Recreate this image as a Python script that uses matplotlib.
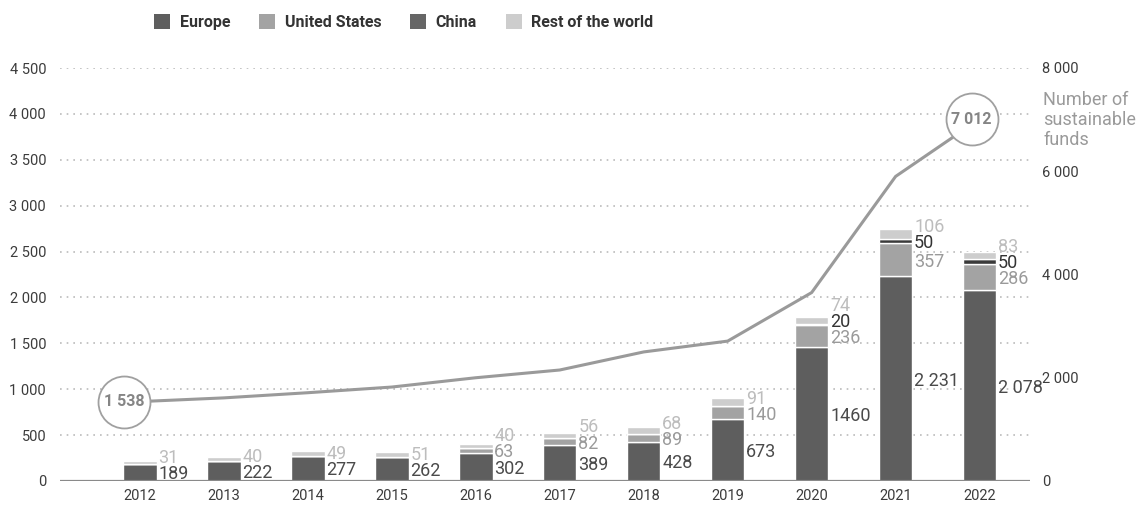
import matplotlib.pyplot as plt
import numpy as np
from matplotlib.patches import Patch
from matplotlib.transforms import offset_copy

plt.rcParams['font.family'] = ['Roboto', 'DejaVu Sans']

years = ['2012', '2013', '2014', '2015', '2016', '2017',
         '2018', '2019', '2020', '2021', '2022']
europe = [189, 222, 277, 262, 302, 389, 428, 673, 1460, 2231, 2078]
europe_labels = ['189', '222', '277', '262', '302', '389', '428', '673',
                 '1460', '2 231', '2 078']
united_states = [0, 0, 0, 0, 63, 82, 89, 140, 236, 357, 286]
china = [0, 0, 0, 0, 0, 0, 0, 0, 20, 50, 50]
rest = [31, 40, 49, 51, 40, 56, 68, 91, 74, 106, 83]
n_funds = [1538, 1610, 1710, 1820, 2000, 2150, 2500, 2710, 3650, 5900, 7012]

series = [('Europe', europe, '#5e5e5e', '#4a4a4a'),
          ('United States', united_states, '#a3a3a3', '#9a9a9a'),
          ('China', china, '#3a3a3a', '#333333'),
          ('Rest of the world', rest, '#cdcdcd', '#bdbdbd')]


def _fmt(v):
    return f'{v:,}'.replace(',', ' ')


fig = plt.figure(figsize=(11.39, 5.05), dpi=100)
ax = fig.add_axes([60 / 1139, 24 / 505, 970 / 1139, 413 / 505])
x = np.arange(len(years))

bottom = np.zeros(len(years))
for name, vals, col, _ in series:
    ax.bar(x, vals, 0.4, bottom=bottom, color=col, edgecolor='white',
           linewidth=1.0, zorder=3)
    bottom += np.array(vals)

# labels to the right of each bar, pushed up so they don't collide
gap = 175
for i in range(len(years)):
    cum = 0
    prev = None
    for k, (name, vals, col, tcol) in enumerate(series):
        v = vals[i]
        if v == 0:
            continue
        yc = cum + v / 2
        if prev is not None:
            yc = max(yc, prev + gap)
        txt = europe_labels[i] if k == 0 else str(v)
        ax.text(x[i] + 0.22, yc, txt, color=tcol, fontsize=13,
                va='center_baseline', ha='left', zorder=5)
        prev = yc
        cum += v

ax.set_ylim(0, 4500)
ax.set_xlim(-0.95, 10.6)
ax.set_yticks(np.arange(0, 4501, 500))
ax.set_yticklabels([_fmt(v) for v in range(0, 4501, 500)])
ax.set_xticks(x)
ax.set_xticklabels(years)
ax.tick_params(axis='both', length=0, labelsize=10.5, colors='#3c3c3c')
ax.tick_params(axis='y', pad=10)
ax.tick_params(axis='x', pad=6)
for s in ax.spines.values():
    s.set_visible(False)
ax.grid(axis='y', linestyle=(0, (1, 3)), color='#bbbbbb', linewidth=1.2)
ax.axhline(0, color='#8a8a8a', linewidth=1.6, zorder=4)

ax2 = ax.twinx()
ax2.plot(x, n_funds, color='#9a9a9a', linewidth=2.2, zorder=3)
ax2.set_ylim(0, 8000)
ax2.set_yticks(np.arange(0, 8001, 2000))
ax2.set_yticklabels([_fmt(v) for v in range(0, 8001, 2000)])
ax2.tick_params(axis='y', length=0, labelsize=10.5, colors='#3c3c3c', pad=9)
for s in ax2.spines.values():
    s.set_visible(False)

# circled start / end values
for idx, dx in [(0, -16), (len(years) - 1, -8)]:
    tr = offset_copy(ax2.transData, fig=fig, x=dx, y=0, units='dots')
    ax2.scatter([x[idx]], [n_funds[idx]], s=1400, facecolor='white',
                edgecolor='#a0a0a0', linewidth=1.3, transform=tr, zorder=6)
    ax2.text(x[idx], n_funds[idx], _fmt(n_funds[idx]), transform=tr,
             ha='center', va='center', fontsize=11.5, color='#858585',
             fontweight='bold', zorder=7)

fig.text(1043 / 1139, 1 - 91 / 505, 'Number of\nsustainable\nfunds',
         color='#9a9a9a', fontsize=13, va='top', ha='left',
         linespacing=1.15)

handles = [Patch(facecolor=c, edgecolor='none') for _, _, c, _ in series]
handles[2] = Patch(facecolor='#666666', edgecolor='none')
fig.legend(handles, [s[0] for s in series], loc='upper left',
           bbox_to_anchor=(140 / 1139, 1.0), ncol=4, frameon=False,
           handlelength=1.0, handleheight=1.0, handletextpad=0.6,
           columnspacing=1.8, prop={'size': 11.5, 'weight': 'bold'},
           labelcolor='#333333')

fig.savefig('out.png', dpi=100)
